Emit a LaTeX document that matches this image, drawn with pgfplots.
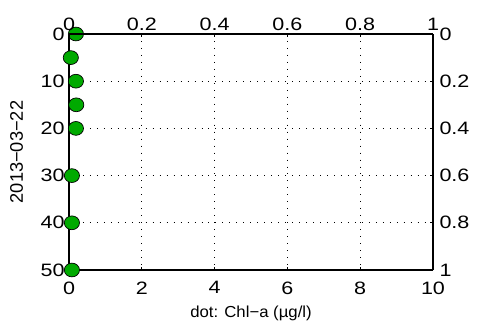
\documentclass[border=0pt]{standalone}
\usepackage{fontspec}
\setmainfont{Liberation Sans}
\newfontfamily\tickfont{Liberation Sans}[FakeStretch=1.2]
\newfontfamily\labfont{Liberation Sans}[FakeStretch=1.05]
\usepackage{pgfplots}
\pgfplotsset{compat=1.18}
\definecolor{dotgreen}{RGB}{0,170,0}
\begin{document}
\begin{tikzpicture}
\pgfplotsset{every axis/.append style={
  scale only axis, width=364bp, height=236bp,
  /pgf/number format/assume math mode=true,
  tick label style={font=\tickfont\fontsize{18}{18}\selectfont},
  axis line style={line width=1.2pt, black},
  tick align=inside, major tick length=3bp,
  tick style={line width=0.8pt, black},
}}
\begin{axis}[
  name=main,
  xmin=0, xmax=10, ymin=0, ymax=50, y dir=reverse,
  axis x line*=bottom, axis y line*=left,
  xtick={0,2,...,10}, ytick={0,10,...,50},
  grid=major,
  grid style={black, line width=0.7pt, dash pattern=on 0.7pt off 6.3pt},
  xlabel={dot: Chl−a (µg/l)}, ylabel={2013−03−22},
  xticklabel style={yshift=-8bp},
  yticklabel style={xshift=-1bp},
  xlabel style={font=\labfont\fontsize{16}{16}\selectfont, at={(axis description cs:0.5,-0.182)}, anchor=center},
  ylabel style={font=\fontsize{18.3}{18.3}\selectfont, at={(axis description cs:-0.1437,0.5)}, anchor=center},
]
\addplot[only marks, mark=*, mark size=6.9bp, mark options={xscale=1.1, fill=dotgreen, draw=black, line width=0.7pt}] coordinates {
(0.19,0) (0.05,5) (0.19,10) (0.2,15) (0.19,20) (0.08,30) (0.08,40) (0.08,50)
};
\end{axis}
\begin{axis}[
  xmin=0, xmax=1, ymin=0, ymax=1, y dir=reverse,
  axis x line*=top, axis y line*=right,
  xtick={0,0.2,...,1}, ytick={0,0.2,...,1},
  yticklabel style={xshift=3bp},
]
\addplot[draw=none] coordinates {(0,0)};
\end{axis}
\useasboundingbox ([shift={(-69bp,-57bp)}]main.south west) rectangle ([shift={(44bp,34bp)}]main.north east);
\end{tikzpicture}
\end{document}
